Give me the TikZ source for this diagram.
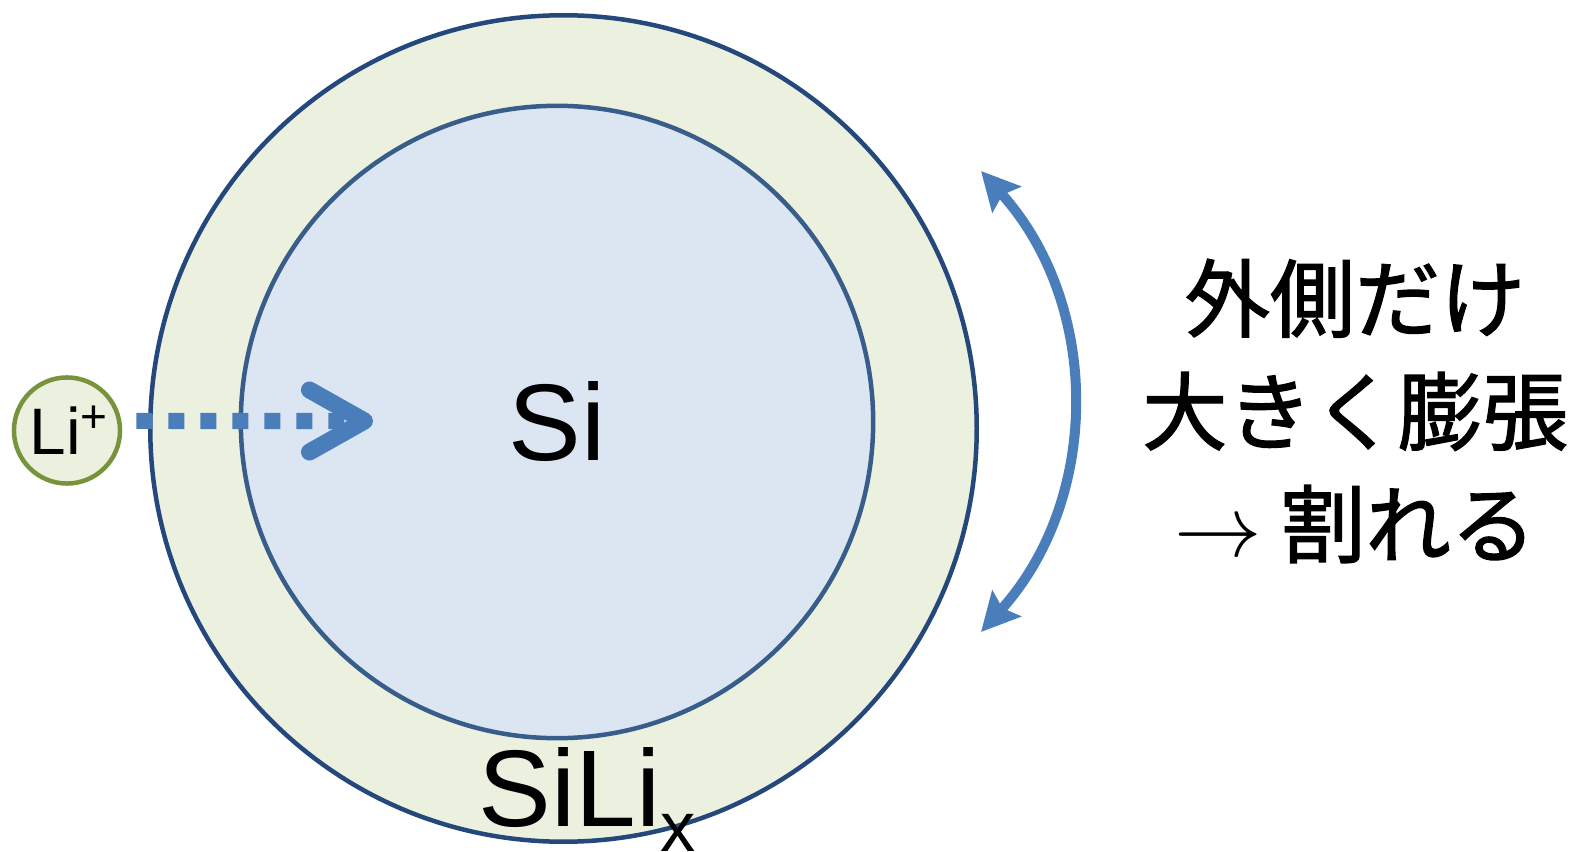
\documentclass[tikz,border=0pt]{standalone}
\usepackage{fontspec}
\setmainfont{Liberation Sans}
\newfontfamily\jpfont[FakeBold=1.6, AutoFakeBold=1.6]{Noto Sans CJK JP}
\usetikzlibrary{arrows.meta, positioning}
\definecolor{shellfill}{RGB}{235,241,222}
\definecolor{shelledge}{RGB}{36,72,124}
\definecolor{corefill}{RGB}{220,230,242}
\definecolor{coreedge}{RGB}{56,93,138}
\definecolor{ioncolor}{RGB}{119,147,60}
\definecolor{arrowblue}{RGB}{74,126,187}

\begin{document}
\begin{tikzpicture}[
    x=0.01cm, y=0.01cm,
    particle/.style={circle, draw, line width=0.045cm, inner sep=0pt},
    ionflow/.style={draw=arrowblue, line width=0.16cm, dash pattern=on 0.16cm off 0.16cm,
        -{Straight Barb[length=0.55cm, width=0.62cm, line width=0.17cm, round]}},
    strain/.style={draw=arrowblue, line width=0.1cm,
        {Stealth[length=0.38cm, width=0.38cm, inset=0.06cm]}-{Stealth[length=0.38cm, width=0.38cm, inset=0.06cm]}}
]
    \useasboundingbox (0,0) rectangle (1573,-852);

    % Particle
    \node[particle, draw=shelledge, fill=shellfill, minimum size=8.26cm] (shell) at (563.5,-428.5) {};
    \node[particle, draw=coreedge, fill=corefill, minimum size=6.32cm, font=\fontsize{31}{36}\selectfont] (core) at (557,-422) {Si};
    \node[anchor=base west, inner sep=0pt, font=\fontsize{31}{36}\selectfont] (silix) at (478,-826) {SiLi\raisebox{-0.25cm}{\fontsize{20}{20}\selectfont x}};

    % Lithium ion
    \node[particle, draw=ioncolor, fill=shellfill, minimum size=1.06cm, font=\fontsize{18.7}{22}\selectfont] (li) at (67,-430.5) {\hspace{0.05cm}Li\textsuperscript{+}};
    \coordinate (litip) at (373,-421);
    \draw[ionflow] ([xshift=0.14cm, yshift=0.095cm]li.east) -- (litip);

    % Expansion
    \coordinate (stop) at (981,-171);
    \coordinate (sbot) at (981,-632);
    \draw[strain] (stop) to[bend left=42] (sbot);
    \node[align=center, font=\jpfont\fontsize{24.2}{32.1}\selectfont] (note) at (1355,-411) {外側だけ\\大きく膨張\\$\rightarrow$ 割れる};
\end{tikzpicture}
\end{document}
